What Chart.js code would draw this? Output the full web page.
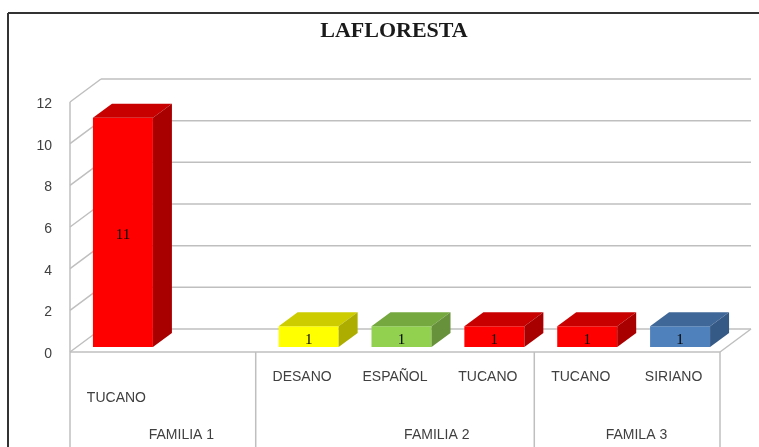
<!DOCTYPE html>
<html>
<head>
<meta charset="utf-8">
<script src="https://cdn.jsdelivr.net/npm/chart.js@4.4.1/dist/chart.umd.min.js"></script>
<style>
    body { margin: 0; background: #fff; }
    canvas { display: block; }
</style>
</head>
<body>
<canvas id="floresta" width="759" height="447"></canvas>
<script>
// chart data
const categories = ['TUCANO', '', 'DESANO', 'ESPAÑOL', 'TUCANO', 'TUCANO', 'SIRIANO'];
const values = [11, null, 1, 1, 1, 1, 1];
const familias = ['FAMILIA 1', 'FAMILIA 2', 'FAMILA 3'];
const familiaEnds = [2, 5, 7];          // category index where each family stops
const familiaLabelAt = [0.7, 3.45, 5.6]; // where Excel put the family name (category index)
const yTicks = [0, 2, 4, 6, 8, 10, 12];

// bar colours: front, top, side
const frontColors = ['#FF0000', '#FF0000', '#FFFF00', '#92D050', '#FF0000', '#FF0000', '#4F81BD'];
const topColors = ['#C80000', '#C80000', '#CCCC00', '#76A840', '#C80000', '#C80000', '#3F6898'];
const sideColors = ['#A80000', '#A80000', '#ADAD00', '#67913A', '#A80000', '#A80000', '#365A86'];

const WALL_DX = 31, WALL_DY = -23;   // depth of the plot box
const BAR_DX = 19, BAR_DY = -14;     // depth of each bar
const BAR_SHIFT_X = 6.5, BAR_SHIFT_Y = -5;
const GRID = '#BFBFBF';
const TEXT = '#404040';

function line(ctx, x1, y1, x2, y2) {
    ctx.beginPath();
    ctx.moveTo(x1, y1);
    ctx.lineTo(x2, y2);
    ctx.stroke();
}

function poly(ctx, pts, color) {
    ctx.beginPath();
    ctx.moveTo(pts[0][0], pts[0][1]);
    pts.slice(1).forEach(p => ctx.lineTo(p[0], p[1]));
    ctx.closePath();
    ctx.fillStyle = color;
    ctx.fill();
}

// walls, gridlines, axis labels
const wallPlugin = {
    id: 'walls',
    beforeDatasetsDraw(chart) {
        const ctx = chart.ctx;
        const area = chart.chartArea;
        const y = chart.scales.y;
        const x = chart.scales.x;
        ctx.save();

        // outer frame
        ctx.strokeStyle = '#333';
        ctx.lineWidth = 2;
        line(ctx, 8, 13, 759, 13);
        line(ctx, 8, 13, 8, 447);

        ctx.strokeStyle = GRID;
        ctx.lineWidth = 1.5;
        yTicks.forEach(v => {
            const py = y.getPixelForValue(v);
            line(ctx, area.left, py, area.left + WALL_DX, py + WALL_DY);
            line(ctx, area.left + WALL_DX, py + WALL_DY, area.right + WALL_DX, py + WALL_DY);
        });
        // left wall front edge, down through the label rows
        line(ctx, area.left, area.top, area.left, 447);
        // floor
        line(ctx, area.left, area.bottom, area.right, area.bottom);
        line(ctx, area.right, area.bottom, area.right + WALL_DX, area.bottom + WALL_DY);
        // family separators
        const slot = (area.right - area.left) / categories.length;
        familiaEnds.forEach(end => {
            const px = area.left + slot * end;
            line(ctx, px, area.bottom, px, 447);
        });

        // y tick labels
        ctx.fillStyle = TEXT;
        ctx.font = '14px "Liberation Sans", Arial, sans-serif';
        ctx.textAlign = 'right';
        ctx.textBaseline = 'middle';
        yTicks.forEach(v => {
            ctx.fillText(String(v), 52, y.getPixelForValue(v) + 2);
        });

        // category labels
        ctx.textAlign = 'center';
        categories.forEach((c, i) => {
            if (!c) return;
            const rowY = i === 0 ? area.bottom + 46 : area.bottom + 25;
            ctx.fillText(c, x.getPixelForValue(i), rowY);
        });
        familias.forEach((f, i) => {
            ctx.fillText(f, area.left + slot * (familiaLabelAt[i] + 0.5), area.bottom + 83);
        });

        ctx.restore();
        ctx.save();
        ctx.translate(BAR_SHIFT_X, BAR_SHIFT_Y);
    },
    afterDatasetsDraw(chart) {
        const ctx = chart.ctx;
        const bars = chart.getDatasetMeta(0).data;
        bars.forEach((bar, i) => {
            if (values[i] === null) return;
            const x0 = bar.x - bar.width / 2;
            const x1 = bar.x + bar.width / 2;
            poly(ctx, [[x0, bar.y], [x1, bar.y], [x1 + BAR_DX, bar.y + BAR_DY], [x0 + BAR_DX, bar.y + BAR_DY]], topColors[i]);
            poly(ctx, [[x1, bar.y], [x1 + BAR_DX, bar.y + BAR_DY], [x1 + BAR_DX, bar.base + BAR_DY], [x1, bar.base]], sideColors[i]);
            ctx.fillStyle = '#000';
            ctx.font = '15px "Liberation Serif", "Times New Roman", serif';
            ctx.textAlign = 'center';
            ctx.textBaseline = 'middle';
            ctx.fillText(String(values[i]), bar.x, (bar.y + bar.base) / 2 + 3);
        });
        ctx.restore();
    },
    afterDraw(chart) {
        const ctx = chart.ctx;
        ctx.save();
        ctx.fillStyle = '#1a1a1a';
        ctx.font = 'bold 22px "Liberation Serif", "Times New Roman", serif';
        ctx.textAlign = 'center';
        ctx.textBaseline = 'alphabetic';
        ctx.fillText('LAFLORESTA', 394, 37);
        ctx.restore();
    }
};

new Chart(document.getElementById('floresta'), {
    type: 'bar',
    data: {
        labels: categories,
        datasets: [{
            data: values,
            backgroundColor: frontColors,
            borderWidth: 0,
            categoryPercentage: 1,
            barPercentage: 0.646
        }]
    },
    options: {
        responsive: false,
        animation: false,
        layout: {
            padding: { left: 70, right: 39, top: 102, bottom: 95 }
        },
        scales: {
            x: { display: false },
            y: { display: false, min: 0, max: 12 }
        },
        plugins: {
            legend: { display: false },
            title: { display: false },
            tooltip: { enabled: false }
        }
    },
    plugins: [wallPlugin]
});
</script>
</body>
</html>
